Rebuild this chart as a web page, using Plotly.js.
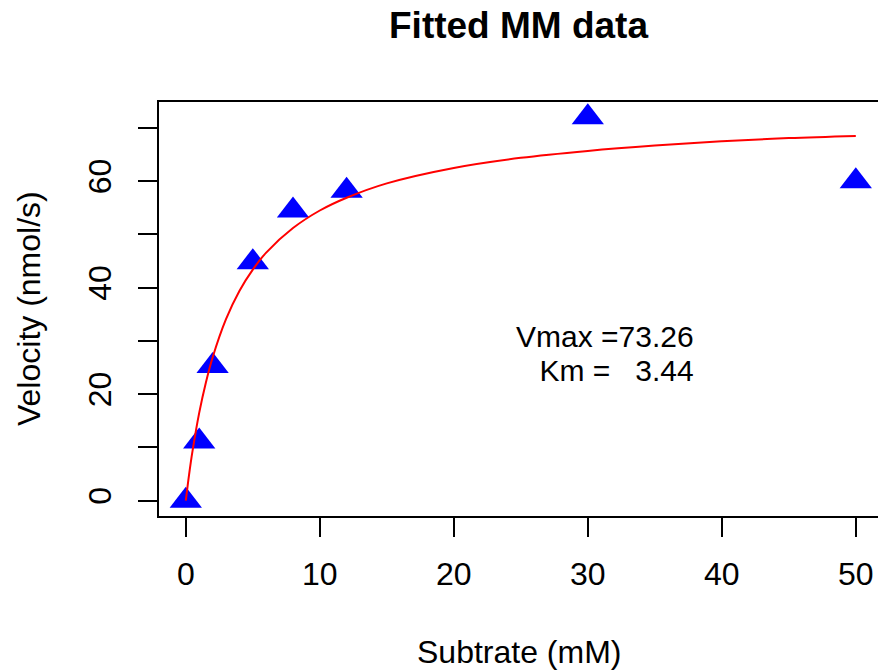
<!DOCTYPE html>
<html>
<head>
<meta charset="utf-8">
<script src="https://cdn.plot.ly/plotly-3.0.1.min.js"></script>
<style>
html,body{margin:0;padding:0;background:#fff;overflow:hidden;}
#chart{width:878px;height:670px;}
</style>
</head>
<body>
<div id="chart"></div>
<script>
// Observed data (substrate mM, velocity nmol/s)
var substrate = [0, 1, 2, 5, 8, 12, 30, 50];
var velocity  = [0, 11.1, 25.3, 44.8, 54.5, 58.2, 72, 60];

// Fitted curve
var curveX = [0, 0.25, 0.5, 1, 1.5, 2, 3, 4, 5, 6, 8, 10, 12, 15, 20, 25, 30, 35, 40, 45, 50];
var curveY = [0, 5.0, 9.3, 16.5, 22.2, 26.9, 34.1, 39.4, 43.4, 46.6, 51.2, 54.5, 56.9, 59.6, 62.5, 64.4, 65.7, 66.7, 67.5, 68.1, 68.5];

var xTickVals = [0, 10, 20, 30, 40, 50];
var xTickText = ['0', '10', '20', '30', '40', '50'];
var yTickVals = [0, 10, 20, 30, 40, 50, 60, 70];
var yTickText = ['0', '', '20', '', '40', '', '60', ''];

var titleText = 'Fitted MM data';
var xLabel = 'Subtrate (mM)';
var yLabel = 'Velocity (nmol/s)';
var noteLines = ['Vmax =73.26', 'Km =   3.44'];

var FONT = 'Liberation Sans, Arial, Helvetica, sans-serif';

var traces = [
  {
    x: substrate, y: velocity, type: 'scatter', mode: 'markers',
    marker: {symbol: 'triangle-up', size: 28, color: '#0000ff', line: {width: 0}},
    cliponaxis: false, hoverinfo: 'skip'
  },
  {
    x: curveX, y: curveY, type: 'scatter', mode: 'lines',
    line: {color: '#ff0000', width: 2, shape: 'spline'},
    hoverinfo: 'skip'
  }
];

var axisCommon = {
  showgrid: false, zeroline: false,
  showline: true, linecolor: '#000', linewidth: 2,
  ticks: 'outside', ticklen: 19, tickwidth: 2, tickcolor: '#000',
  tickfont: {family: FONT, size: 32, color: '#000'},
  tickmode: 'array', fixedrange: true
};

var noteHtml = noteLines.map(function (s) {
  return '<span style="font-size:30px">' + s.replace(/ /g, '&nbsp;') + '</span>';
}).join('<br>');

var layout = {
  width: 878, height: 670,
  margin: {l: 159, r: 0, t: 102, b: 154, pad: 0},
  paper_bgcolor: '#fff', plot_bgcolor: '#fff',
  showlegend: false,
  title: {
    text: '<b>' + titleText + '</b>',
    font: {family: FONT, size: 37, color: '#000'},
    x: 0.5, xref: 'paper', xanchor: 'center',
    y: 1 - 25 / 670, yref: 'container', yanchor: 'middle'
  },
  xaxis: Object.assign({}, axisCommon, {
    range: [-2, 51.656], tickvals: xTickVals, ticktext: xTickText,
    mirror: true, ticklabelstandoff: 10
  }),
  yaxis: Object.assign({}, axisCommon, {
    range: [-2.88, 74.88], tickvals: yTickVals, ticktext: yTickText,
    mirror: false, tickangle: -90, ticklabelstandoff: 14
  }),
  annotations: [
    {text: xLabel, xref: 'paper', yref: 'paper', x: 0.5, y: (516 - 652) / 414,
     xanchor: 'center', yanchor: 'middle', showarrow: false,
     font: {family: FONT, size: 32, color: '#000'}},
    {text: yLabel, xref: 'paper', yref: 'paper', x: (29 - 159) / 719, y: 0.5,
     xanchor: 'center', yanchor: 'middle', showarrow: false, textangle: -90,
     font: {family: FONT, size: 32, color: '#000'}},
    {text: noteHtml, xref: 'x', yref: 'y', x: 38.0, y: 27.7,
     xanchor: 'right', yanchor: 'middle', align: 'right', showarrow: false,
     borderpad: 0,
     font: {family: FONT, size: 26.5, color: '#000'}}
  ]
};

Plotly.newPlot('chart', traces, layout, {displayModeBar: false, staticPlot: true});
</script>
</body>
</html>
